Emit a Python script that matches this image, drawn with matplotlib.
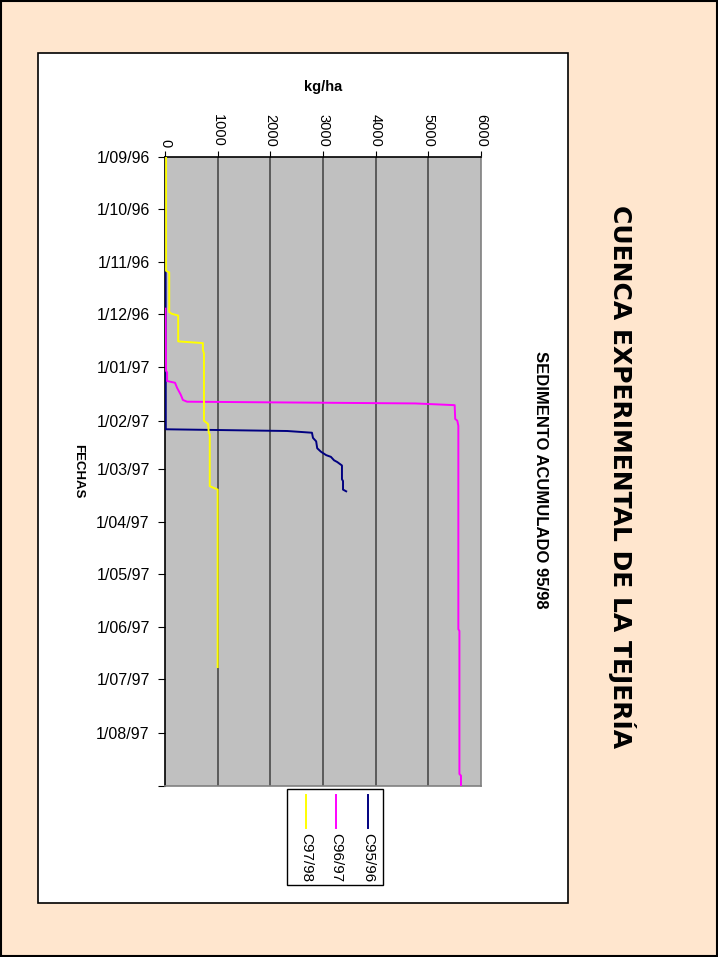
import matplotlib
matplotlib.use("Agg")
import matplotlib.pyplot as plt
from matplotlib.patches import Rectangle
from matplotlib.lines import Line2D
import pandas as pd

plt.rcParams["font.family"] = ["Liberation Sans", "DejaVu Sans"]

# cumulative sediment (kg/ha) per season, placed on the 96/97 calendar
c9596_dates = ["1996-09-01", "1997-02-06", "1997-02-07", "1997-02-08", "1997-02-11",
               "1997-02-13", "1997-02-17", "1997-02-19", "1997-02-21", "1997-02-22",
               "1997-02-24", "1997-02-25", "1997-02-27", "1997-03-07", "1997-03-08",
               "1997-03-13", "1997-03-14"]
c9596_vals = [10, 15, 2320, 2790, 2810, 2870, 2890, 2960, 3060, 3150,
              3210, 3270, 3360, 3360, 3380, 3380, 3440]

c9697_dates = ["1996-11-28", "1997-01-03", "1997-01-04", "1997-01-09", "1997-01-10",
               "1997-01-13", "1997-01-17", "1997-01-20", "1997-01-21", "1997-01-22",
               "1997-01-23", "1997-01-31", "1997-02-01", "1997-02-04", "1997-06-02",
               "1997-06-03", "1997-08-25", "1997-08-26", "1997-09-01"]
c9697_vals = [10, 20, 40, 40, 190, 230, 300, 340, 420, 4750,
              5500, 5510, 5550, 5570, 5570, 5590, 5590, 5620, 5620]

c9798_dates = ["1996-09-01", "1996-11-06", "1996-11-07", "1996-11-30", "1996-12-01",
               "1996-12-02", "1996-12-17", "1996-12-18", "1996-12-22", "1996-12-24",
               "1997-02-01", "1997-02-03", "1997-02-08", "1997-02-09", "1997-03-11",
               "1997-03-13", "1997-06-24"]
c9798_vals = [20, 20, 80, 80, 130, 250, 250, 720, 720, 740,
              740, 820, 830, 850, 850, 1000, 1000]

series = [("C95/96", c9596_dates, c9596_vals, "#000080"),
          ("C96/97", c9697_dates, c9697_vals, "#FF00FF"),
          ("C97/98", c9798_dates, c9798_vals, "#FFFF00")]

value_ticks = [0, 1000, 2000, 3000, 4000, 5000, 6000]

W, H = 718, 957
fig = plt.figure(figsize=(W / 100, H / 100), dpi=100)
fig.patch.set_facecolor("#FFE6CE")

# outer frame and white chart panel
fig.add_artist(Rectangle((0.001, 0.001), 0.998, 0.998, transform=fig.transFigure,
                         fill=False, edgecolor="black", lw=1.5))
fig.add_artist(Rectangle((38 / W, 1 - 903 / H), 530 / W, 850 / H, transform=fig.transFigure,
                         facecolor="white", edgecolor="black", lw=1.2, zorder=0))

ax = fig.add_axes([165 / W, 1 - 786 / H, 316 / W, 629 / H])
ax.set_facecolor("#C0C0C0")

# dates run down the page, kg/ha across
for name, d, v, col in series:
    ax.plot(v, pd.to_datetime(d), color=col, lw=1.4, label=name, zorder=3)

ax.set_xlim(0, 6000)
ax.set_ylim(pd.Timestamp("1997-09-01"), pd.Timestamp("1996-09-01"))

# value axis on top, labels turned
ax.xaxis.tick_top()
ax.set_xticks(value_ticks)
ax.set_xticklabels([str(t) for t in value_ticks], rotation=270, fontsize=10.5)
ax.tick_params(axis="x", length=4, pad=3, color="black")
for t in value_ticks[1:-1]:
    ax.axvline(t, color="#404040", lw=1.1, zorder=1)

# monthly date axis
month_ticks = pd.date_range("1996-09-01", "1997-09-01", freq="MS")
ax.set_yticks(month_ticks)
labels = [f"{d.day}/{d.month:02d}/{d.year % 100:02d}" for d in month_ticks]
labels[-1] = ""
ax.set_yticklabels(labels, fontsize=11.5)
ax.tick_params(axis="y", length=5, pad=6)

ax.spines["top"].set_color("black")
ax.spines["left"].set_color("black")
ax.spines["right"].set_color("#808080")
ax.spines["bottom"].set_color("#808080")
for s in ax.spines.values():
    s.set_linewidth(1.2)

ax.set_xlabel("kg/ha", fontsize=10.5, fontweight="bold")
ax.xaxis.set_label_position("top")
ax.xaxis.set_label_coords(0.5, 1.105)
ax.set_ylabel("FECHAS", fontsize=9.5, fontweight="bold", rotation=270)
ax.yaxis.set_label_coords(-0.294, 0.5)

fig.text(540 / W, 1 - 480 / H, "SEDIMENTO ACUMULADO 95/98", rotation=270,
         ha="center", va="center", fontsize=12, fontweight="bold")
fig.text(622 / W, 1 - 477 / H, "CUENCA EXPERIMENTAL DE LA TEJERÍA", rotation=270,
         ha="center", va="center", fontsize=18, fontweight="bold", family="DejaVu Sans")

# legend: vertical keys with turned labels
fig.add_artist(Rectangle((287 / W, 1 - 885 / H), 96 / W, 96 / H, transform=fig.transFigure,
                         facecolor="white", edgecolor="black", lw=1.0))
for (name, d, v, col), lx in zip(series, [368, 336, 306]):
    fig.add_artist(Line2D([lx / W, lx / W], [1 - 795 / H, 1 - 828 / H],
                          transform=fig.transFigure, color=col, lw=1.4))
    fig.text(lx / W, 1 - 833 / H, name, rotation=270, ha="center", va="top", fontsize=11)

fig.savefig("out.png", dpi=100, facecolor=fig.get_facecolor())
